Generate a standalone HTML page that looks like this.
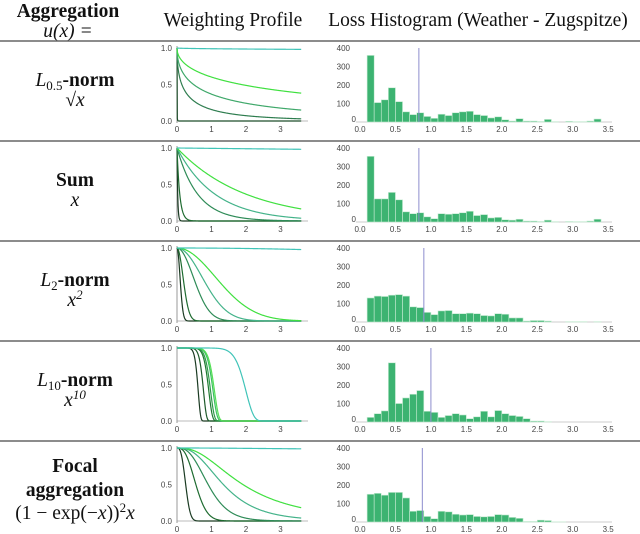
<!DOCTYPE html>
<html><head><meta charset="utf-8"><style>
body{margin:0;background:#fff;}
svg{display:block;}
.hd{font-family:"Liberation Serif",serif;font-size:19.5px;fill:#111;}
.tk{font-family:"Liberation Sans",sans-serif;font-size:8px;fill:#444;}
</style></head><body>
<svg id="fig" width="640" height="534" viewBox="0 0 640 534" xmlns="http://www.w3.org/2000/svg">
<g>
<text class="hd" x="68" y="17" text-anchor="middle" font-weight="bold">Aggregation</text>
<text class="hd" x="68" y="37" text-anchor="middle" font-style="italic">u(x) =</text>
<text class="hd" x="233" y="26" text-anchor="middle">Weighting Profile</text>
<text class="hd" x="478" y="26" text-anchor="middle">Loss Histogram (Weather - Zugspitze)</text>
</g>
<g id="rows"></g>
</svg>
<script>
// Temperatures for weighting curves per row (w = exp(-u(x)/T))
const temps1 = [0.03, 0.54, 1.0, 1.97, 100];
const temps2 = [0.02, 0.08, 0.6, 1.1, 2.0, 200];
const temps3 = [0.015, 0.06, 0.44, 1.04, 2.44, 600];
const temps4 = [0.0087, 0.081, 0.5, 0.86, 1.76, 2.58, 1146];
const temps5 = [0.018, 0.14, 0.46, 1.06, 2.0, 300];
// Histogram counts, bins of width 0.1 starting at 0.1
const hist1 = [360,105,120,185,110,55,40,50,30,20,42,35,50,55,58,40,35,22,28,12,5,18,5,5,3,14,2,0,4,2,2,5,16];
const hist2 = [355,125,125,160,120,55,45,50,28,18,45,42,45,50,58,35,40,22,25,12,10,15,5,5,3,10,2,0,3,2,2,5,15];
const hist3 = [130,140,138,145,148,140,82,78,52,40,60,62,45,45,48,45,35,33,45,42,22,22,5,8,8,5,0,0,2,2,2,0,2];
const hist4 = [25,45,60,320,100,130,150,170,58,52,25,35,45,38,18,28,58,28,62,45,35,30,18,5,5,2];
const hist5 = [150,155,145,160,160,130,58,62,30,18,58,55,42,38,40,30,28,30,40,38,25,20,3,3,10,8,1,1];
const vlines = [0.83, 0.83, 0.9, 1.0, 0.88];
const wTicksY = ["0.0","0.5","1.0"];
const wTicksX = [0,1,2,3];
const hTicksY = [0,100,200,300,400];
const hTicksX = ["0.0","0.5","1.0","1.5","2.0","2.5","3.0","3.5"];

const NS="http://www.w3.org/2000/svg";
const rowsG=document.getElementById('rows');
function mk(tag,attrs,parent){const e=document.createElementNS(NS,tag);for(const k in attrs)e.setAttribute(k,attrs[k]);parent.appendChild(e);return e;}

const uFns=[x=>Math.sqrt(x),x=>x,x=>x*x,x=>Math.pow(x,10),x=>Math.pow(1-Math.exp(-x),2)*x];
const tempsAll=[temps1,temps2,temps3,temps4,temps5];
const histAll=[hist1,hist2,hist3,hist4,hist5];
const curveColors={5:["#1f4d2a","#2e7d4f","#3fa86a","#3fe03f","#40c4b8"],6:["#1a3a22","#1e6b30","#2e8b57","#44b38a","#3fe03f","#40c4b8"],7:["#1a3a22","#1e5a2a","#1e7a30","#2e9a4a","#3cc060","#55e055","#40c4b8"]};

for(let r=0;r<5;r++){
  const top=41+100*r;
  const g=mk('g',{},rowsG);
  
  
  const rule=mk('line',{x1:0,x2:640,y1:top,y2:top,stroke:'#666','stroke-width':1.5},g);
  
  
  const lg=mk('g',{},g);
  
  
  const lx=75;
  if(r===0||r===2||r===3){
    const t=mk('text',{class:'hd',x:lx,y:top+45,'text-anchor':'middle'},lg);
    const sub=['0.5','2','10'][r===0?0:r===2?1:2];
    t.innerHTML='<tspan font-style="italic">L</tspan><tspan font-size="13" dy="4">'+sub+'</tspan><tspan font-weight="bold" dy="-4">-norm</tspan>';
    const t2=mk('text',{class:'hd',x:lx,y:top+65,'text-anchor':'middle','font-style':'italic'},lg);
    if(r===0)t2.textContent='√x';
    else t2.innerHTML='x<tspan font-size="13" dy="-7">'+(r===2?'2':'10')+'</tspan>';
  }else if(r===1){
    const t=mk('text',{class:'hd',x:lx,y:top+45,'text-anchor':'middle','font-weight':'bold'},lg);t.textContent='Sum';
    const t2=mk('text',{class:'hd',x:lx,y:top+65,'text-anchor':'middle','font-style':'italic'},lg);t2.textContent='x';
  }else{
    const t=mk('text',{class:'hd',x:lx,y:top+31,'text-anchor':'middle','font-weight':'bold'},lg);t.textContent='Focal';
    const t1=mk('text',{class:'hd',x:lx,y:top+55,'text-anchor':'middle','font-weight':'bold'},lg);t1.textContent='aggregation';
    const t2=mk('text',{class:'hd',x:lx,y:top+78,'text-anchor':'middle'},lg);t2.innerHTML='(1 − exp(−<tspan font-style="italic">x</tspan>))<tspan font-size="13" dy="-7">2</tspan><tspan dy="7" font-style="italic">x</tspan>';
  }
  const wx=v=>177+34.5*v, wy=v=>top+80-73*v;
  const wg=mk('g',{},g);
  
  
  mk('line',{x1:177,x2:308,y1:wy(0),y2:wy(0),stroke:'#bbb','stroke-width':1},wg);
  mk('line',{x1:177,x2:177,y1:top+5,y2:wy(0)+2,stroke:'#999','stroke-width':1},wg);
  wTicksY.forEach(s=>{const t=mk('text',{class:'tk',x:172,y:wy(parseFloat(s))+3,'text-anchor':'end'},wg);t.textContent=s;});
  wTicksX.forEach(v=>{const t=mk('text',{class:'tk',x:wx(v),y:top+91,'text-anchor':'middle'},wg);t.textContent=v;});
  const temps=tempsAll[r], cols=curveColors[temps.length];
  temps.forEach((T,i)=>{
    let d='';
    for(let k=0;k<=360;k++){const x=k*0.01;const w=Math.exp(-uFns[r](x)/T);d+=(k?'L':'M')+wx(x).toFixed(2)+','+wy(w).toFixed(2);}
    const p=mk('path',{d:d,fill:'none',stroke:cols[i],'stroke-width':1.2},wg);
    
    
  });
  const hx=v=>360+70.9*v, hy=c=>top+81-74*c/400;
  const hg=mk('g',{},g);
  
  
  mk('line',{x1:356,x2:612,y1:hy(0),y2:hy(0),stroke:'#ccc','stroke-width':1},hg);
  hTicksY.forEach(v=>{const t=mk('text',{class:'tk',x:v===0?356:350,y:hy(v)+(v===0?0:3),'text-anchor':'end'},hg);t.textContent=v;});
  hTicksX.forEach(s=>{const t=mk('text',{class:'tk',x:hx(parseFloat(s)),y:top+91,'text-anchor':'middle'},hg);t.textContent=s;});
  histAll[r].forEach((c,i)=>{
    if(c<=0)return;
    const x0=hx(0.1+0.1*i),x1=hx(0.2+0.1*i);
    const b=mk('rect',{x:x0,y:hy(c),width:x1-x0,height:hy(0)-hy(c),fill:'#3cb371',stroke:'#c8ecd4','stroke-width':0.6},hg);
    
    
  });
  const vl=mk('line',{x1:hx(vlines[r]),x2:hx(vlines[r]),y1:hy(400),y2:hy(0),stroke:'#8888cc','stroke-width':1.2,'stroke-opacity':0.8},hg);
  
  
}
</script>
</body></html>
